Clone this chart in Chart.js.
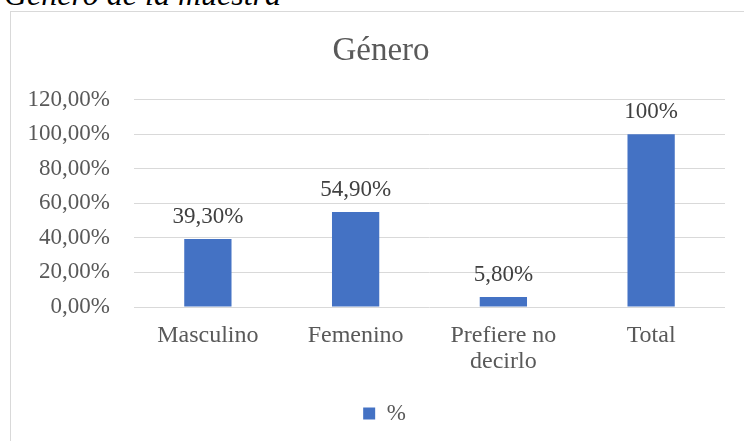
<!DOCTYPE html>
<html>
<head>
<meta charset="utf-8">
<script src="https://cdn.jsdelivr.net/npm/chart.js@4"></script>
<style>
  html, body { margin: 0; padding: 0; background: #fff; overflow: hidden; }
  #page { position: relative; width: 744px; height: 441px; }
  #caption {
    position: absolute; left: 4px; top: -22px;
    font: italic 32px/32px "Liberation Serif", serif; color: #000; white-space: nowrap;
  }
  #frame {
    position: absolute; left: 10px; top: 11px; width: 760px; height: 460px;
    border: 1px solid #d9d9d9; box-sizing: border-box;
  }
  #chart { position: absolute; left: 0; top: 0; }
</style>
</head>
<body>
<div id="page">
  <div id="caption">Género de la muestra</div>
  <div id="frame"></div>
  <canvas id="chart" width="744" height="441"></canvas>
</div>
<script>
// data
const categories = ['Masculino', 'Femenino', ['Prefiere no', 'decirlo'], 'Total'];
const values = [0.393, 0.549, 0.058, 1.0];
const valueLabels = ['39,30%', '54,90%', '5,80%', '100%'];
const seriesName = '%';
const chartTitle = 'Género';

const FONT = '"Liberation Serif", "Times New Roman", serif';

// simple value labels above each bar
const barLabels = {
  id: 'barLabels',
  afterDatasetsDraw(chart) {
    const ctx = chart.ctx;
    const meta = chart.getDatasetMeta(0);
    ctx.save();
    ctx.font = '23px ' + FONT;
    ctx.fillStyle = '#404040';
    ctx.textAlign = 'center';
    ctx.textBaseline = 'middle';
    meta.data.forEach((bar, i) => {
      ctx.fillText(valueLabels[i], bar.x, bar.y - 22);
    });
    ctx.restore();
  }
};

// the frame runs past the right edge, so centre title and legend on it
const centreOnFrame = {
  id: 'centreOnFrame',
  afterLayout(chart) {
    if (chart.titleBlock) chart.titleBlock.left += 37;
    if (chart.legend) chart.legend.left += 44;
  }
};

new Chart(document.getElementById('chart'), {
  type: 'bar',
  data: {
    labels: categories,
    datasets: [{
      label: seriesName,
      data: values,
      backgroundColor: '#4472C4',
      categoryPercentage: 1,
      barPercentage: 0.32
    }]
  },
  options: {
    responsive: false,
    animation: false,
    layout: { padding: { left: 0, right: 19, top: 0, bottom: 6 } },
    plugins: {
      title: {
        display: true,
        text: chartTitle,
        color: '#595959',
        font: { family: FONT, size: 33, weight: 'normal', lineHeight: 1.2 },
        padding: { top: 32, bottom: 28 }
      },
      legend: {
        position: 'bottom',
        labels: {
          color: '#595959',
          font: { family: FONT, size: 23, lineHeight: 1.2 },
          boxWidth: 12,
          boxHeight: 12,
          padding: 10
        }
      },
      tooltip: { enabled: false }
    },
    scales: {
      x: {
        grid: { display: false },
        border: { display: false },
        ticks: {
          color: '#595959',
          font: { family: FONT, size: 24, lineHeight: 1.08 },
          padding: 8,
          maxRotation: 0
        },
        afterFit: s => { s.height = 85; }
      },
      y: {
        min: 0,
        max: 1.2,
        grid: { color: '#d9d9d9', drawTicks: false },
        border: { display: false },
        ticks: {
          stepSize: 0.2,
          color: '#595959',
          font: { family: FONT, size: 23 },
          padding: 24,
          callback: v => (v * 100).toFixed(2).replace('.', ',') + '%'
        },
        afterFit: s => { s.width = 134; }
      }
    }
  },
  plugins: [barLabels, centreOnFrame]
});
</script>
</body>
</html>
